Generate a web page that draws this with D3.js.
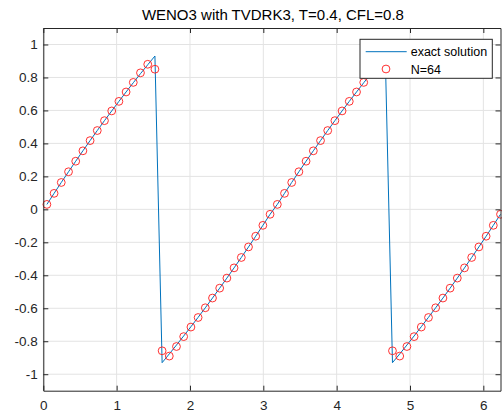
<!DOCTYPE html>
<html>
<head>
<meta charset="utf-8">
<script src="https://cdn.jsdelivr.net/npm/d3@7"></script>
<style>
  html, body { margin: 0; padding: 0; background: #fff; }
  svg { display: block; }
  text { font-family: "Liberation Sans", Arial, Helvetica, sans-serif; }
</style>
</head>
<body>
<svg id="chart" width="502" height="412"></svg>
<script>
// ---------------- data ----------------
const titleText = "WENO3 with TVDRK3, T=0.4, CFL=0.8";
const seriesNames = ["exact solution", "N=64"];

// cell centres (N = 64 on [0, 2π])
const xCells = [0.049,0.147,0.245,0.344,0.442,0.540,0.638,0.736,0.834,0.933,1.031,1.129,1.227,1.325,1.424,1.522,
                1.620,1.718,1.816,1.914,2.013,2.111,2.209,2.307,2.405,2.503,2.601,2.700,2.798,2.896,2.994,3.092,
                3.191,3.289,3.387,3.485,3.583,3.682,3.780,3.878,3.976,4.074,4.172,4.271,4.369,4.467,4.565,4.663,
                4.761,4.860,4.958,5.056,5.154,5.252,5.350,5.449,5.547,5.645,5.743,5.841,5.939,6.038,6.136,6.234];

const exactValues = [0.030,0.097,0.163,0.228,0.292,0.355,0.417,0.478,0.538,0.597,0.655,0.712,0.768,0.823,0.877,0.930,
                     -0.930,-0.877,-0.823,-0.768,-0.712,-0.655,-0.597,-0.538,-0.478,-0.417,-0.355,-0.292,-0.228,-0.163,-0.097,-0.030,
                     0.030,0.097,0.163,0.228,0.292,0.355,0.417,0.478,0.538,0.597,0.655,0.712,0.768,0.823,0.877,0.930,
                     -0.930,-0.877,-0.823,-0.768,-0.712,-0.655,-0.597,-0.538,-0.478,-0.417,-0.355,-0.292,-0.228,-0.163,-0.097,-0.030];

const numericValues = [0.030,0.097,0.163,0.228,0.292,0.355,0.417,0.478,0.538,0.597,0.655,0.712,0.770,0.828,0.880,0.850,
                       -0.858,-0.890,-0.832,-0.772,-0.714,-0.656,-0.597,-0.538,-0.478,-0.417,-0.355,-0.292,-0.228,-0.163,-0.097,-0.030,
                       0.030,0.097,0.163,0.228,0.292,0.355,0.417,0.478,0.538,0.597,0.655,0.712,0.770,0.828,0.880,0.850,
                       -0.858,-0.890,-0.832,-0.772,-0.714,-0.656,-0.597,-0.538,-0.478,-0.417,-0.355,-0.292,-0.228,-0.163,-0.097,-0.030];

const xTicks = [0, 1, 2, 3, 4, 5, 6];
const yTicks = [-1, -0.8, -0.6, -0.4, -0.2, 0, 0.2, 0.4, 0.6, 0.8, 1];
const xDomain = [0, 6.234];
const yDomain = [-1.1, 1.1];

// ---------------- layout ----------------
const svg = d3.select("#chart");
const pLeft = 43.3, pRight = 500.5, pTop = 28, pBottom = 390.7;
const axisColor = "#262626";
const gridColor = "#e3e3e3";

const x = d3.scaleLinear().domain(xDomain).range([pLeft, pRight]);
const y = d3.scaleLinear().domain(yDomain).range([pBottom, pTop]);

svg.append("rect").attr("x", pLeft).attr("y", pTop)
  .attr("width", pRight - pLeft).attr("height", pBottom - pTop).attr("fill", "#fff");

// grid
const grid = svg.append("g");
grid.selectAll(".gx").data(xTicks).join("line")
  .attr("x1", d => x(d)).attr("x2", d => x(d)).attr("y1", pTop).attr("y2", pBottom)
  .attr("stroke", gridColor).attr("stroke-width", 1);
grid.selectAll(".gy").data(yTicks).join("line")
  .attr("y1", d => y(d)).attr("y2", d => y(d)).attr("x1", pLeft).attr("x2", pRight)
  .attr("stroke", gridColor).attr("stroke-width", 1);

// data
const pts = xCells.map((xv, i) => ({ x: xv, e: exactValues[i], n: numericValues[i] }));

svg.append("path").datum(pts)
  .attr("d", d3.line().x(d => x(d.x)).y(d => y(d.e)))
  .attr("fill", "none").attr("stroke", "#0072BD").attr("stroke-width", 1);

svg.append("g").selectAll("circle").data(pts).join("circle")
  .attr("cx", d => x(d.x)).attr("cy", d => y(d.n)).attr("r", 3.9)
  .attr("fill", "none").attr("stroke", "#ff1a1a").attr("stroke-width", 0.9);

// axes
function fmt(d) { return String(Math.round(d * 10) / 10); }

const tickLen = 5;
const gB = svg.append("g").attr("transform", `translate(0,${pBottom})`)
  .call(d3.axisBottom(x).tickValues(xTicks).tickFormat(fmt).tickSizeInner(-tickLen).tickSizeOuter(0).tickPadding(9.5));
const gT = svg.append("g").attr("transform", `translate(0,${pTop})`)
  .call(d3.axisTop(x).tickValues(xTicks).tickFormat("").tickSizeInner(-tickLen).tickSizeOuter(0));
const gL = svg.append("g").attr("transform", `translate(${pLeft},0)`)
  .call(d3.axisLeft(y).tickValues(yTicks).tickFormat(fmt).tickSizeInner(-tickLen).tickSizeOuter(0).tickPadding(5.5));
const gR = svg.append("g").attr("transform", `translate(${pRight},0)`)
  .call(d3.axisRight(y).tickValues(yTicks).tickFormat("").tickSizeInner(-tickLen).tickSizeOuter(0));

[gB, gT, gL, gR].forEach(g => {
  g.select(".domain").attr("stroke", axisColor).attr("stroke-width", 1);
  g.selectAll(".tick line").attr("stroke", axisColor).attr("stroke-width", 1);
  g.selectAll(".tick text").attr("fill", axisColor)
    .style("font-family", '"Liberation Sans", Arial, sans-serif').style("font-size", "13.5px");
});

// title
svg.append("text").attr("x", (pLeft + pRight) / 2 + 1).attr("y", 20)
  .attr("text-anchor", "middle").attr("fill", "#000")
  .style("font-size", "15px").text(titleText);

// legend
const lg = svg.append("g");
lg.append("rect").attr("x", 360).attr("y", 39.3).attr("width", 132.3).attr("height", 39)
  .attr("fill", "#fff").attr("stroke", axisColor).attr("stroke-width", 1);
lg.append("line").attr("x1", 365.7).attr("x2", 406.7).attr("y1", 51.7).attr("y2", 51.7)
  .attr("stroke", "#0072BD").attr("stroke-width", 1);
lg.append("circle").attr("cx", 386).attr("cy", 69).attr("r", 3.9)
  .attr("fill", "none").attr("stroke", "#ff1a1a").attr("stroke-width", 0.9);
lg.append("text").attr("x", 410.7).attr("y", 56.2).attr("fill", "#000")
  .style("font-size", "12.5px").text(seriesNames[0]);
lg.append("text").attr("x", 410.7).attr("y", 73.5).attr("fill", "#000")
  .style("font-size", "12.5px").text(seriesNames[1]);
</script>
</body>
</html>
